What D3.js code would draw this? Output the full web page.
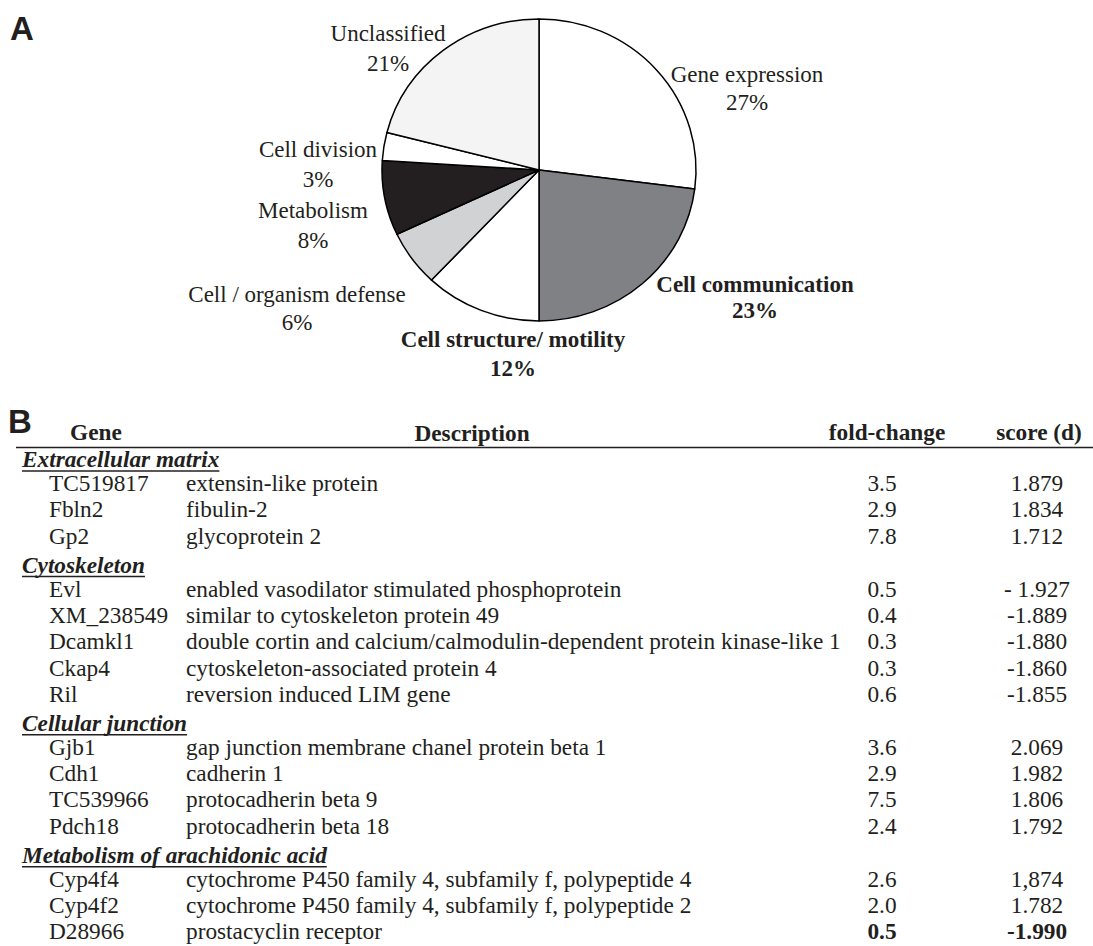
<!DOCTYPE html>
<html><head><meta charset="utf-8">
<script src="https://cdn.jsdelivr.net/npm/d3@7/dist/d3.min.js"></script>
<style>
html,body{margin:0;padding:0;background:#fff;}
svg text{font-family:"Liberation Serif","Times New Roman",serif;fill:#231f20;}
</style></head>
<body>
<svg id="chart" width="1093" height="946"></svg>
<script>
// ---------- Data: pie (panel A) ----------
const categories = ["Gene expression","Cell communication","Cell structure/ motility","Cell / organism defense","Metabolism","Cell division","Unclassified"];
const percents   = [27, 23, 12, 6, 8, 3, 21];
const boldCats   = ["Cell communication","Cell structure/ motility"];

// ---------- Data: table (panel B) ----------
const columnHeaders = ["Gene","Description","fold-change","score (d)"];
const groups = ["Extracellular matrix","Cytoskeleton","Cellular junction","Metabolism of arachidonic acid"];
const rowGroup = [0,0,0,1,1,1,1,1,2,2,2,2,3,3,3];
const genes = ["TC519817","Fbln2","Gp2","Evl","XM_238549","Dcamkl1","Ckap4","Ril","Gjb1","Cdh1","TC539966","Pdch18","Cyp4f4","Cyp4f2","D28966"];
const descriptions = ["extensin-like protein","fibulin-2","glycoprotein 2",
  "enabled vasodilator stimulated phosphoprotein","similar to cytoskeleton protein 49",
  "double cortin and calcium/calmodulin-dependent protein kinase-like 1","cytoskeleton-associated protein 4",
  "reversion induced LIM gene","gap junction membrane chanel protein beta 1","cadherin 1",
  "protocadherin beta 9","protocadherin beta 18","cytochrome P450 family 4, subfamily f, polypeptide 4",
  "cytochrome P450 family 4, subfamily f, polypeptide 2","prostacyclin receptor"];
const foldChange = [3.5,2.9,7.8,0.5,0.4,0.3,0.3,0.6,3.6,2.9,7.5,2.4,2.6,2.0,0.5];
const scores = ["1.879","1.834","1.712","- 1.927","-1.889","-1.880","-1.860","-1.855","2.069","1.982","1.806","1.792","1,874","1.782","-1.990"];
const boldRows = ["D28966"];

// ---------- Layout ----------
const svg = d3.select("#chart");
const ink = "#231f20";
const fills = ["#ffffff","#808184","#ffffff","#d1d2d4","#231f20","#ffffff","#f4f4f4"];
const cx = 539, cy = 170, ry = 151, rx = 157;
// label anchor (center x, first baseline y, line gap) for each category
const labelLayout = [[747,82,28],[755,292,26],[513,347,29],[297,302,28],[313,218,30],[318,157,30],[388,41,30]];

// Panel letters
svg.append("text").attr("x",10).attr("y",40).text("A")
  .style("font-family","'Liberation Sans',Arial,sans-serif").style("font-weight","bold").style("font-size","33px");
svg.append("text").attr("x",8).attr("y",433).text("B")
  .style("font-family","'Liberation Sans',Arial,sans-serif").style("font-weight","bold").style("font-size","33px");

// Pie
const pie = d3.pie().sort(null).value(d => d)(percents);
const arc = d3.arc().innerRadius(0).outerRadius(ry);
const g = svg.append("g").attr("transform",`translate(${cx},${cy}) scale(${rx/ry},1)`);
g.selectAll("path").data(pie).join("path")
  .attr("d", arc)
  .attr("fill",(d,i)=>fills[i])
  .attr("stroke","#000")
  .attr("stroke-width",1.5)
  .attr("stroke-linejoin","round")
  .attr("vector-effect","non-scaling-stroke");

const lab = svg.append("g");
categories.forEach((c,i)=>{
  const [x,y,gap] = labelLayout[i];
  const bold = boldCats.includes(c);
  const t = lab.append("text").attr("text-anchor","middle").style("font-size","23px")
    .style("font-weight", bold ? "bold":"normal");
  t.append("tspan").attr("x",x).attr("y",y).text(c);
  t.append("tspan").attr("x",x).attr("y",y+gap).text(percents[i]+"%");
});

// Table
const fs = "23.3px";
const colX = {gene:49, desc:186, fold:882, score:1037};
svg.append("line").attr("x1",16).attr("x2",1093).attr("y1",447.5).attr("y2",447.5)
  .attr("stroke",ink).attr("stroke-width",1.6);
const hdr = [[columnHeaders[0],96,440],[columnHeaders[1],472,441],[columnHeaders[2],887,440],[columnHeaders[3],1039,440]];
hdr.forEach(([t,x,y])=>{
  svg.append("text").attr("x",x).attr("y",y).attr("text-anchor","middle")
    .style("font-weight","bold").style("font-size",fs).text(t);
});

// row position scale: index units (rows + group offsets) -> baseline y
const rowStep = 26.3, groupExtra = 26.7;
const yScale = d3.scaleLinear().domain([0,1]).range([491, 491+rowStep]);
const rowY = (k) => yScale(k + rowGroup[k]*groupExtra/rowStep);

groups.forEach((gname,gi)=>{
  const first = rowGroup.indexOf(gi);
  const y = rowY(first) - 23.8;
  const t = svg.append("text").attr("x",22).attr("y",y)
    .style("font-weight","bold").style("font-style","italic").style("font-size",fs).text(gname);
  const w = t.node().getComputedTextLength();
  svg.append("line").attr("x1",22).attr("x2",22+w).attr("y1",y+3.8).attr("y2",y+3.8)
    .attr("stroke",ink).attr("stroke-width",1.5);
});

const rows = svg.append("g").selectAll("g").data(genes).join("g");
rows.append("text").attr("x",colX.gene).attr("y",(d,i)=>rowY(i)).style("font-size",fs).text(d=>d);
rows.append("text").attr("x",colX.desc).attr("y",(d,i)=>rowY(i)).style("font-size",fs).text((d,i)=>descriptions[i]);
rows.append("text").attr("x",colX.fold).attr("y",(d,i)=>rowY(i)).attr("text-anchor","middle")
  .style("font-size",fs).style("font-weight",d=>boldRows.includes(d)?"bold":"normal")
  .text((d,i)=>foldChange[i].toFixed(1));
rows.append("text").attr("x",colX.score).attr("y",(d,i)=>rowY(i)).attr("text-anchor","middle")
  .style("font-size",fs).style("font-weight",d=>boldRows.includes(d)?"bold":"normal")
  .text((d,i)=>scores[i]);
</script>
</body></html>
